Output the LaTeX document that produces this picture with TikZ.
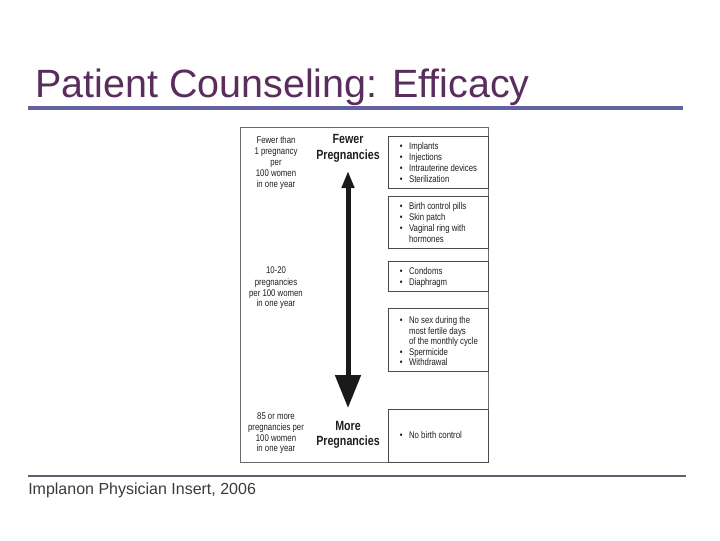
\documentclass[tikz,border=0pt]{standalone}
\usepackage{fontspec}
\setmainfont{Liberation Sans}
\newfontfamily\cond[FakeStretch=0.8]{Liberation Sans}
\usetikzlibrary{arrows.meta}
\definecolor{titlec}{HTML}{5A2D5C}
\definecolor{rulec}{HTML}{6262A0}
\definecolor{footrule}{HTML}{5E5E6A}
\definecolor{foottext}{HTML}{3A3A3A}
\definecolor{boxc}{HTML}{4A4A4A}
\definecolor{outerc}{HTML}{6A6A6A}
\definecolor{itemc}{HTML}{1E1E1E}
\definecolor{arrowc}{HTML}{1A1A1A}
\begin{document}
\begin{tikzpicture}[x=0.75pt,y=-0.75pt,
  itemtxt/.style={anchor=base west, inner sep=0pt, text=itemc, font=\cond\fontsize{7.3}{8}\selectfont},
  lefttxt/.style={anchor=base, inner sep=0pt, text=itemc, font=\cond\fontsize{7.3}{8}\selectfont},
  boldtxt/.style={anchor=base, inner sep=0pt, text=itemc, font=\cond\bfseries\fontsize{10}{11}\selectfont},
  boxline/.style={draw=boxc, line width=0.7pt}
]
\useasboundingbox (0,0) rectangle (720,540);
\newcommand{\bx}{\makebox[7pt][l]{\textbullet}}

% title
\node[anchor=base west, inner sep=0pt, text=titlec, font=\fontsize{29.6}{36}\selectfont] (title) at (35,97.5) {Patient Counseling: Efficacy};
\draw[rulec, line width=3pt] (28,108) -- (683,108);

% footer
\draw[footrule, line width=1pt] (28,476) -- (686,476);
\node[anchor=base west, inner sep=0pt, text=foottext, font=\fontsize{12}{14}\selectfont] (src) at (28,494) {Implanon Physician Insert, 2006};

% frame and boxes
\draw[draw=outerc, line width=0.7pt] (240,127) rectangle (488,462);
\draw[boxline] (388,136) rectangle (488,188);
\draw[boxline] (388,196) rectangle (488,248);
\draw[boxline] (388,261) rectangle (488,291);
\draw[boxline] (388,308) rectangle (488,371);
\draw[boxline] (388,409) rectangle (488,462);

% box 1
\node[itemtxt] (b1a) at (399.5,149) {\bx Implants};
\node[itemtxt] (b1b) at (399.5,160) {\bx Injections};
\node[itemtxt] (b1c) at (399.5,171) {\bx Intrauterine devices};
\node[itemtxt] (b1d) at (399.5,182) {\bx Sterilization};
% box 2
\node[itemtxt] (b2a) at (399.5,209.5) {\bx Birth control pills};
\node[itemtxt] (b2b) at (399.5,220.5) {\bx Skin patch};
\node[itemtxt] (b2c) at (399.5,231.5) {\bx Vaginal ring with};
\node[itemtxt] (b2d) at (399.5,242.5) {\hspace*{7pt}hormones};
% box 3
\node[itemtxt] (b3a) at (399.5,274.5) {\bx Condoms};
\node[itemtxt] (b3b) at (399.5,285.5) {\bx Diaphragm};
% box 4
\node[itemtxt] (b4a) at (399.5,323.5) {\bx No sex during the};
\node[itemtxt] (b4b) at (399.5,334) {\hspace*{7pt}most fertile days};
\node[itemtxt] (b4c) at (399.5,344.5) {\hspace*{7pt}of the monthly cycle};
\node[itemtxt] (b4d) at (399.5,355) {\bx Spermicide};
\node[itemtxt] (b4e) at (399.5,365.5) {\bx Withdrawal};
% box 5
\node[itemtxt] (b5a) at (399.5,438.5) {\bx No birth control};

% left column
\node[lefttxt] (l1a) at (276,143.5) {Fewer than};
\node[lefttxt] (l1b) at (276,154.5) {1 pregnancy};
\node[lefttxt] (l1c) at (276,165.5) {per};
\node[lefttxt] (l1d) at (276,176.5) {100 women};
\node[lefttxt] (l1e) at (276,187.5) {in one year};

\node[lefttxt] (l2a) at (276,273.5) {10-20};
\node[lefttxt] (l2b) at (276,285.5) {pregnancies};
\node[lefttxt] (l2c) at (276,296.5) {per 100 women};
\node[lefttxt] (l2d) at (276,306.5) {in one year};

\node[lefttxt] (l3a) at (276,419.5) {85 or more};
\node[lefttxt] (l3b) at (276,430.5) {pregnancies per};
\node[lefttxt] (l3c) at (276,441) {100 women};
\node[lefttxt] (l3d) at (276,451.5) {in one year};

% middle labels
\node[boldtxt] (fewer) at (348,143.5) {Fewer};
\node[boldtxt] (fewerp) at (348,159.5) {Pregnancies};
\node[boldtxt] (more) at (348,430.5) {More};
\node[boldtxt] (morep) at (348,445.5) {Pregnancies};

% arrow
\coordinate (atop) at (348,171);
\coordinate (abot) at (348,408);
\draw[arrowc, line width=3.75pt, {Triangle[width=9pt,length=12.75pt]}-{Triangle[width=18.75pt,length=24.75pt]}] (atop) -- (abot);
\end{tikzpicture}
\end{document}
